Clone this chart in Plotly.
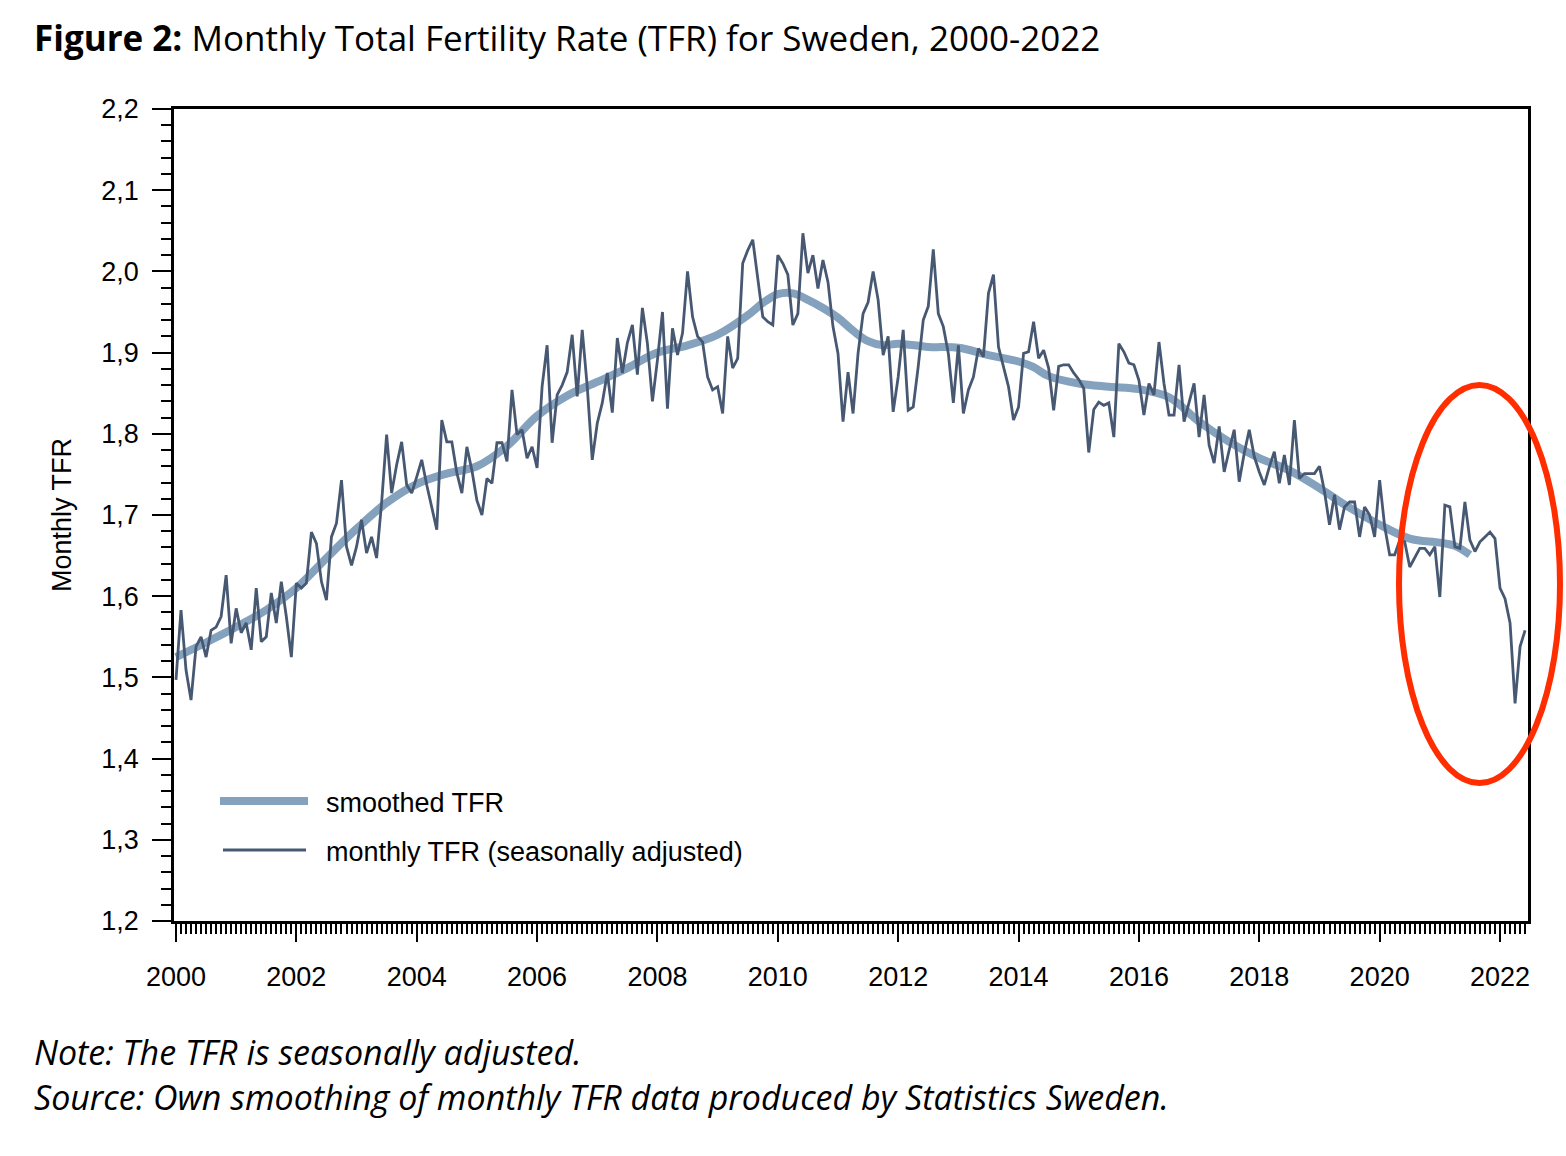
import plotly.graph_objects as go

# ---------------- data ----------------
start_year = 2000
monthly_tfr = [
    # 2000
    1.497, 1.583, 1.509, 1.472, 1.538, 1.550, 1.525, 1.558, 1.562, 1.575, 1.626, 1.542,
    # 2001
    1.585, 1.555, 1.567, 1.534, 1.610, 1.544, 1.550, 1.604, 1.567, 1.618, 1.575, 1.525,
    # 2002
    1.616, 1.610, 1.616, 1.679, 1.665, 1.618, 1.595, 1.673, 1.690, 1.743, 1.661, 1.638,
    # 2003
    1.661, 1.694, 1.653, 1.673, 1.647, 1.715, 1.799, 1.727, 1.762, 1.790, 1.737, 1.727,
    # 2004
    1.747, 1.768, 1.737, 1.710, 1.682, 1.817, 1.790, 1.790, 1.752, 1.727, 1.784, 1.755,
    # 2005
    1.718, 1.700, 1.745, 1.739, 1.789, 1.789, 1.766, 1.854, 1.799, 1.805, 1.770, 1.784,
    # 2006
    1.758, 1.858, 1.909, 1.789, 1.848, 1.860, 1.876, 1.922, 1.846, 1.928, 1.858, 1.768,
    # 2007
    1.813, 1.838, 1.875, 1.826, 1.918, 1.875, 1.912, 1.934, 1.873, 1.955, 1.911, 1.840,
    # 2008
    1.891, 1.950, 1.831, 1.930, 1.897, 1.924, 2.000, 1.944, 1.920, 1.913, 1.870, 1.854,
    # 2009
    1.858, 1.825, 1.920, 1.881, 1.893, 2.010, 2.026, 2.039, 1.989, 1.944, 1.938, 1.934,
    # 2010
    2.020, 2.010, 1.996, 1.934, 1.948, 2.047, 1.998, 2.020, 1.979, 2.014, 1.987, 1.932,
    # 2011
    1.899, 1.815, 1.876, 1.825, 1.899, 1.948, 1.962, 2.000, 1.965, 1.897, 1.920, 1.827,
    # 2012
    1.870, 1.928, 1.829, 1.833, 1.883, 1.940, 1.957, 2.027, 1.948, 1.932, 1.899, 1.838,
    # 2013
    1.909, 1.825, 1.854, 1.870, 1.905, 1.895, 1.973, 1.996, 1.907, 1.883, 1.858, 1.817,
    # 2014
    1.833, 1.899, 1.901, 1.938, 1.893, 1.903, 1.881, 1.829, 1.883, 1.885, 1.885, 1.875,
    # 2015
    1.867, 1.856, 1.777, 1.830, 1.839, 1.835, 1.838, 1.796, 1.911, 1.901, 1.887, 1.885,
    # 2016
    1.866, 1.823, 1.862, 1.848, 1.913, 1.862, 1.823, 1.823, 1.885, 1.815, 1.838, 1.862,
    # 2017
    1.796, 1.848, 1.786, 1.764, 1.809, 1.753, 1.780, 1.805, 1.741, 1.776, 1.805, 1.772,
    # 2018
    1.753, 1.737, 1.759, 1.778, 1.739, 1.774, 1.737, 1.817, 1.745, 1.751, 1.751, 1.751,
    # 2019
    1.760, 1.729, 1.688, 1.725, 1.682, 1.710, 1.716, 1.716, 1.673, 1.710, 1.700, 1.673,
    # 2020
    1.743, 1.686, 1.651, 1.651, 1.669, 1.667, 1.636, 1.647, 1.659, 1.659, 1.651, 1.661,
    # 2021
    1.599, 1.712, 1.710, 1.661, 1.659, 1.716, 1.669, 1.655, 1.667, 1.673, 1.679, 1.671,
    # 2022
    1.610, 1.597, 1.567, 1.468, 1.538, 1.558,
]
monthly_x = [start_year + i / 12 for i in range(len(monthly_tfr))]

smooth_years = [2000.0, 2000.5, 2001.0, 2001.5, 2002.0, 2002.5, 2003.0, 2003.5,
                2004.0, 2004.5, 2005.0, 2005.5, 2006.0, 2006.5, 2007.0, 2007.5,
                2008.0, 2008.5, 2009.0, 2009.5, 2009.75, 2010.0, 2010.25, 2010.5,
                2010.75, 2011.0, 2011.25, 2011.5, 2011.75, 2012.0, 2012.5, 2013.0,
                2013.5, 2014.0, 2014.25, 2014.5, 2015.0, 2015.5, 2016.0, 2016.5,
                2017.0, 2017.5, 2018.0, 2018.5, 2019.0, 2019.5, 2020.0, 2020.5,
                2021.0, 2021.25, 2021.5]
smooth_tfr = [1.525, 1.543, 1.562, 1.583, 1.610, 1.647, 1.683, 1.715,
              1.738, 1.751, 1.760, 1.785, 1.822, 1.847, 1.864, 1.881,
              1.900, 1.909, 1.922, 1.946, 1.961, 1.972, 1.973, 1.965,
              1.955, 1.943, 1.927, 1.914, 1.909, 1.911, 1.907, 1.906,
              1.897, 1.889, 1.882, 1.871, 1.862, 1.858, 1.855, 1.845,
              1.815, 1.790, 1.770, 1.755, 1.733, 1.709, 1.688, 1.671,
              1.666, 1.662, 1.651]

legend_labels = ["smoothed TFR", "monthly TFR (seasonally adjusted)"]
title_bold = "Figure 2:"
title_rest = " Monthly Total Fertility Rate (TFR) for Sweden, 2000-2022"
note_lines = ["Note: The TFR is seasonally adjusted.",
              "Source: Own smoothing of monthly TFR data produced by Statistics Sweden."]
y_title = "Monthly TFR"

# ---------------- style ----------------
SMOOTH_COLOR = "#84a1be"
MONTHLY_COLOR = "#475872"
RED = "#ff2d00"
ARIAL = "Liberation Sans, Arial, sans-serif"
TEXTFONT = "Open Sans, Noto Sans, sans-serif"

W, H = 1566, 1156
L, R, T, B = 174, 1528, 109, 921
pw, ph = R - L, B - T


def px(x):
    return (x - L) / pw


def py(y):
    return (B - y) / ph


fig = go.Figure()
fig.add_trace(go.Scatter(
    x=smooth_years, y=smooth_tfr, mode="lines",
    line=dict(color=SMOOTH_COLOR, width=8, shape="spline", smoothing=1.0),
    name=legend_labels[0], showlegend=False, hoverinfo="skip"))
fig.add_trace(go.Scatter(
    x=monthly_x, y=monthly_tfr, mode="lines",
    line=dict(color=MONTHLY_COLOR, width=2.8),
    name=legend_labels[1], showlegend=False))

shapes = [
    # custom legend samples
    dict(type="line", xref="paper", yref="paper",
         x0=px(220), x1=px(308), y0=py(801), y1=py(801),
         line=dict(color=SMOOTH_COLOR, width=8)),
    dict(type="line", xref="paper", yref="paper",
         x0=px(223), x1=px(306), y0=py(850), y1=py(850),
         line=dict(color=MONTHLY_COLOR, width=2.8)),
    # red highlight ellipse
    dict(type="circle", xref="paper", yref="paper", layer="above",
         x0=px(1399), x1=px(1560), y0=py(783), y1=py(385),
         line=dict(color=RED, width=6)),
]

annotations = [
    dict(xref="paper", yref="paper", x=px(324), y=py(803), xanchor="left", yanchor="middle",
         text=legend_labels[0], showarrow=False, font=dict(family=ARIAL, size=27, color="black")),
    dict(xref="paper", yref="paper", x=px(324), y=py(852), xanchor="left", yanchor="middle",
         text=legend_labels[1], showarrow=False, font=dict(family=ARIAL, size=27, color="black")),
    dict(xref="paper", yref="paper", x=px(62), y=py(515), xanchor="center", yanchor="middle",
         text=y_title, textangle=-90, showarrow=False,
         font=dict(family=ARIAL, size=27, color="black")),
    dict(xref="paper", yref="paper", x=px(32), y=py(37), xanchor="left", yanchor="middle",
         text="<b>" + title_bold + "</b>" + title_rest, showarrow=False,
         font=dict(family=TEXTFONT, size=35, color="black")),
    dict(xref="paper", yref="paper", x=px(32), y=py(1052), xanchor="left", yanchor="middle",
         text="<i>" + note_lines[0] + "</i>", showarrow=False,
         font=dict(family=TEXTFONT, size=34, color="black")),
    dict(xref="paper", yref="paper", x=px(32), y=py(1097), xanchor="left", yanchor="middle",
         text="<i>" + note_lines[1] + "</i>", showarrow=False,
         font=dict(family=TEXTFONT, size=34, color="black")),
]

fig.update_layout(
    width=W, height=H,
    margin=dict(l=L, r=W - R, t=T, b=H - B, pad=0),
    paper_bgcolor="white", plot_bgcolor="white",
    separators=", ",
    shapes=shapes, annotations=annotations,
    showlegend=False,
    xaxis=dict(
        range=[1999.967, 2022.465], tickmode="linear", tick0=2000, dtick=2,
        tickformat="d", ticks="outside", ticklen=18, tickwidth=2, tickcolor="black",
        showline=True, linecolor="black", linewidth=2.5, mirror=True,
        showgrid=False, zeroline=False, ticklabelstandoff=12,
        tickfont=dict(family=ARIAL, size=27, color="black"),
        minor=dict(tickmode="linear", tick0=2000, dtick=1 / 12, ticks="outside",
                   ticklen=10, tickwidth=1.8, tickcolor="black", showgrid=False),
    ),
    yaxis=dict(
        range=[1.2, 2.2], tickmode="linear", tick0=1.2, dtick=0.1,
        tickformat=".1f", ticks="outside", ticklen=19, tickwidth=2, tickcolor="black",
        showline=True, linecolor="black", linewidth=2.5, mirror=True,
        showgrid=False, zeroline=False, ticklabelstandoff=8,
        tickfont=dict(family=ARIAL, size=27, color="black"),
        minor=dict(tickmode="linear", tick0=1.2, dtick=0.02, ticks="outside",
                   ticklen=10, tickwidth=2, tickcolor="black", showgrid=False),
    ),
)

fig.write_html("out.html", config={"displayModeBar": False},
               post_script="document.body.style.margin='0px';")
